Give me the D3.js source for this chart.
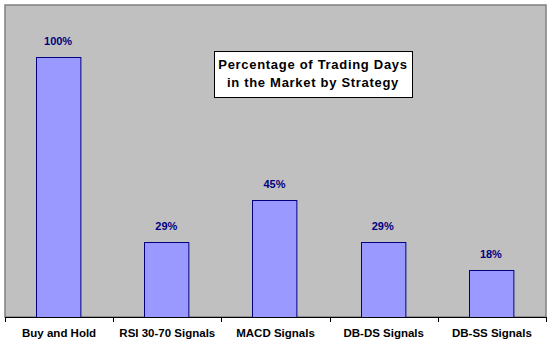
<!DOCTYPE html>
<html><head><meta charset="utf-8">
<script src="https://cdn.jsdelivr.net/npm/d3@7"></script>
<style>body{margin:0;background:#fff}svg{display:block}</style>
</head><body>
<svg id="c" width="550" height="350"></svg>
<script>
const categories = ["Buy and Hold","RSI 30-70 Signals","MACD Signals","DB-DS Signals","DB-SS Signals"];
const values = [1.00, 0.29, 0.45, 0.29, 0.18];
const titleLines = ["Percentage of Trading Days","in the Market by Strategy"];

const svg = d3.select("#c");
const L = 5, R = 546, T = 5, B = 317;
const x = d3.scaleBand().domain(categories).range([L, R]).paddingInner(0.59).paddingOuter(0.295);
const y = d3.scaleLinear().domain([0, 1.2]).range([B, T]);

svg.append("rect").attr("x", L).attr("y", T).attr("width", R - L).attr("height", B - T)
  .attr("fill", "#C0C0C0").attr("stroke", "#808080").attr("stroke-width", 1.5);

svg.selectAll("rect.bar").data(values).join("rect").attr("class","bar")
  .attr("x", (d,i) => Math.round(x(categories[i])) - 0.5)
  .attr("y", d => Math.round(y(d)) + 0.5)
  .attr("width", x.bandwidth())
  .attr("height", d => B - Math.round(y(d)))
  .attr("fill", "#9999FF").attr("stroke", "#000080").attr("stroke-width", 1);

svg.selectAll("text.val").data(values).join("text").attr("class","val")
  .attr("x", (d,i) => x(categories[i]) + x.bandwidth()/2 - 1)
  .attr("y", d => y(d) - 12)
  .attr("text-anchor","middle")
  .attr("font-family","Liberation Sans, Arial, sans-serif").attr("font-weight","bold")
  .attr("font-size", 11).attr("fill", "#000080")
  .text(d => Math.round(d*100) + "%");

const xb = d3.scaleBand().domain(categories).range([L, R]);
const ax = svg.append("g").attr("transform", `translate(0,${B})`)
  .call(d3.axisBottom(xb).tickSize(0).tickPadding(12));
ax.select(".domain").attr("stroke","#000").attr("stroke-width",1);
ax.selectAll("text").attr("font-family","Liberation Sans, Arial, sans-serif")
  .attr("font-weight","bold").attr("font-size", 11.5).attr("fill","#000");
const edges = categories.map(c => xb(c)).concat([R]);
svg.selectAll("line.tk").data(edges).join("line").attr("class","tk")
  .attr("x1", d => Math.round(d)+0.5).attr("x2", d => Math.round(d)+0.5)
  .attr("y1", B).attr("y2", B + 5).attr("stroke", "#000");

svg.append("rect").attr("x", 214.5).attr("y", 51.5).attr("width", 198).attr("height", 46)
  .attr("fill", "#fff").attr("stroke", "#000").attr("stroke-width", 1);
svg.selectAll("text.tt").data(titleLines).join("text").attr("class","tt")
  .attr("x", 313).attr("y", (d,i) => 69 + i*18)
  .attr("text-anchor","middle")
  .attr("font-family","Liberation Sans, Arial, sans-serif").attr("font-weight","bold")
  .attr("font-size", 13).attr("letter-spacing", 0.7).attr("fill","#000")
  .text(d => d);
</script>
</body></html>
